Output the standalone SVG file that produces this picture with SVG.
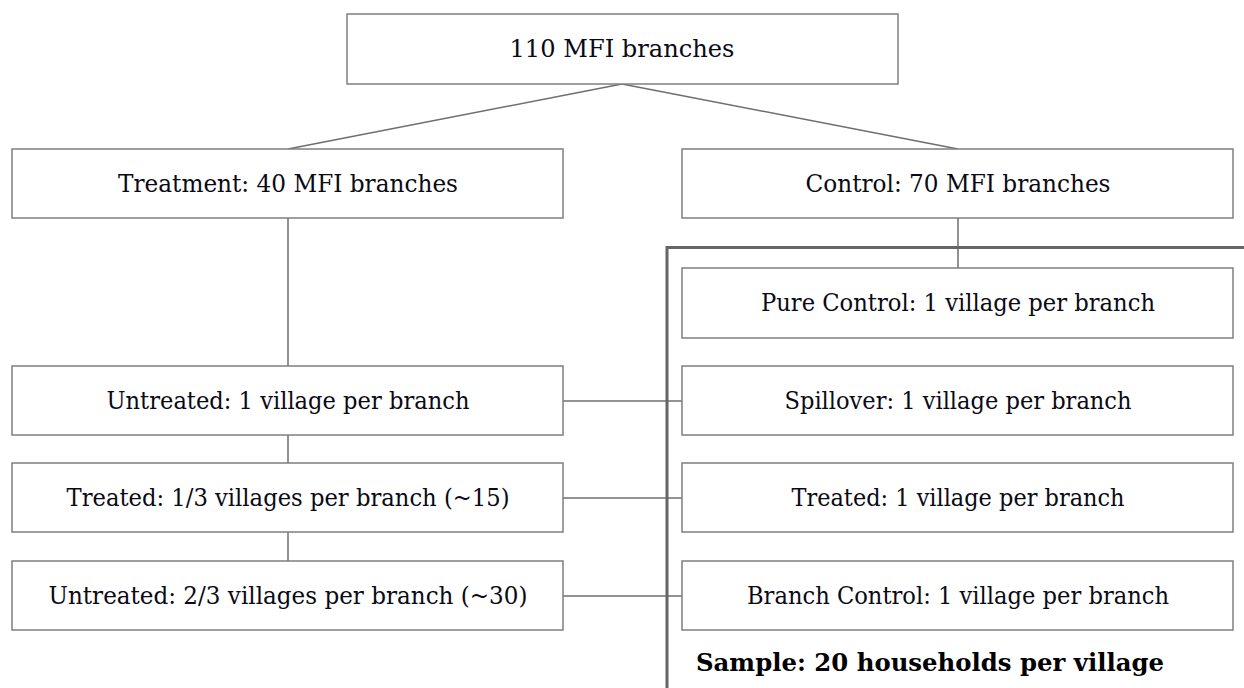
<svg xmlns="http://www.w3.org/2000/svg" width="1244" height="688" viewBox="0 0 1244 688">
<style>
.box{fill:#fff;stroke:#7f7f7f;stroke-width:1.5}
.lbl{font-family:"DejaVu Serif","Liberation Serif",serif;font-size:24px;fill:#0a0a14;text-anchor:middle}
.conn line{stroke:#6e6e6e;stroke-width:1.5}
.bold{font-family:"DejaVu Serif","Liberation Serif",serif;font-size:24px;font-weight:bold;fill:#000}
</style>
<rect width="1244" height="688" fill="#fff"/>
<g id="connectors" class="conn">
<line x1="622" y1="84" x2="288" y2="149"/>
<line x1="622" y1="84" x2="958" y2="149"/>
<line x1="288" y1="218" x2="288" y2="366"/>
<line x1="958" y1="218" x2="958" y2="268"/>
<line x1="288" y1="435" x2="288" y2="463"/>
<line x1="288" y1="532" x2="288" y2="561"/>
<line x1="563" y1="401" x2="682" y2="401"/>
<line x1="563" y1="498" x2="682" y2="498"/>
<line x1="563" y1="596" x2="682" y2="596"/>
</g>
<path id="sample-bracket" d="M667,688 V247.5 H1244" fill="none" stroke="#666" stroke-width="3"/>
<g id="root"><rect class="box" x="347" y="14" width="551" height="70"/><text class="lbl" x="622" y="57" textLength="225" lengthAdjust="spacingAndGlyphs">110 MFI branches</text></g>
<g id="treatment"><rect class="box" x="12" y="149" width="551" height="69"/><text class="lbl" x="288" y="192" textLength="340" lengthAdjust="spacingAndGlyphs">Treatment: 40 MFI branches</text></g>
<g id="control"><rect class="box" x="682" y="149" width="551" height="69"/><text class="lbl" x="958" y="192" textLength="305" lengthAdjust="spacingAndGlyphs">Control: 70 MFI branches</text></g>
<g id="pure-control"><rect class="box" x="682" y="268" width="551" height="70"/><text class="lbl" x="958" y="311" textLength="394" lengthAdjust="spacingAndGlyphs">Pure Control: 1 village per branch</text></g>
<g id="untreated1"><rect class="box" x="12" y="366" width="551" height="69"/><text class="lbl" x="288" y="409" textLength="363" lengthAdjust="spacingAndGlyphs">Untreated: 1 village per branch</text></g>
<g id="spillover"><rect class="box" x="682" y="366" width="551" height="69"/><text class="lbl" x="958" y="409" textLength="347" lengthAdjust="spacingAndGlyphs">Spillover: 1 village per branch</text></g>
<g id="treated13"><rect class="box" x="12" y="463" width="551" height="69"/><text class="lbl" x="288" y="506" textLength="443" lengthAdjust="spacingAndGlyphs">Treated: 1/3 villages per branch (~15)</text></g>
<g id="treated1"><rect class="box" x="682" y="463" width="551" height="69"/><text class="lbl" x="958" y="506" textLength="333" lengthAdjust="spacingAndGlyphs">Treated: 1 village per branch</text></g>
<g id="untreated23"><rect class="box" x="12" y="561" width="551" height="69"/><text class="lbl" x="288" y="604" textLength="479" lengthAdjust="spacingAndGlyphs">Untreated: 2/3 villages per branch (~30)</text></g>
<g id="branch-control"><rect class="box" x="682" y="561" width="551" height="69"/><text class="lbl" x="958" y="604" textLength="422" lengthAdjust="spacingAndGlyphs">Branch Control: 1 village per branch</text></g>
<g id="sample-label"><text class="bold" x="696" y="671" textLength="468" lengthAdjust="spacingAndGlyphs">Sample: 20 households per village</text></g>
</svg>
